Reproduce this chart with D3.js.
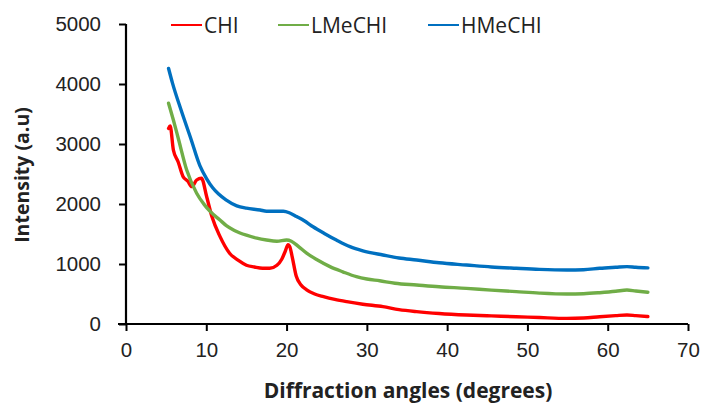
<!DOCTYPE html>
<html>
<head>
<meta charset="utf-8">
<script src="https://cdn.jsdelivr.net/npm/d3@7"></script>
<style>
  body { margin: 0; background: #fff; }
  svg { display: block; font-family: "Open Sans", sans-serif; }
</style>
</head>
<body>
<svg id="chart" width="704" height="403"></svg>
<script>
// diffraction angle (deg) / intensity
let chiAngle = [5.3, 5.5, 5.9, 6.5, 7.1, 7.7, 8.2, 8.8, 9.4, 10.05, 10.7, 11.7, 12.9, 14.0, 15.0, 16.0, 17.0, 17.9, 18.8, 19.4, 19.8, 20.2, 20.4, 20.7, 21.2, 21.8, 22.5, 23.5, 24.6, 26.0, 27.5, 29.5, 32.0, 34.0, 36.2, 39.0, 42.4, 45.5, 48.6, 51.5, 54.9, 57.0, 59.0, 61.0, 62.4, 63.5, 65.0];
let chiValue = [3260, 3300, 2900, 2700, 2460, 2380, 2290, 2400, 2430, 2120, 1790, 1460, 1180, 1060, 980, 950, 930, 930, 980, 1080, 1200, 1320, 1290, 1120, 800, 650, 570, 500, 456, 410, 372, 330, 289, 240, 206, 175, 150, 135, 122, 108, 94, 100, 122, 140, 150, 140, 125];

let lmeAngle = [5.3, 5.9, 6.5, 7.55, 8.8, 9.75, 10.45, 11.7, 12.5, 13.5, 15.0, 16.3, 17.5, 18.8, 20.0, 20.6, 21.5, 22.5, 23.8, 25.4, 27.0, 28.7, 30.0, 31.6, 33.5, 36.2, 39.0, 42.4, 45.5, 48.6, 51.5, 54.9, 57.0, 59.0, 61.0, 62.4, 63.5, 65.0];
let lmeValue = [3680, 3400, 3100, 2570, 2180, 1990, 1880, 1733, 1640, 1560, 1480, 1430, 1400, 1380, 1400, 1380, 1290, 1180, 1070, 956, 870, 789, 750, 720, 680, 650, 620, 594, 565, 539, 515, 500, 505, 522, 545, 567, 550, 530];

let hmeAngle = [5.3, 5.8, 6.85, 8.1, 9.2, 10.05, 10.8, 11.5, 12.45, 13.8, 15.0, 16.7, 17.5, 18.5, 19.6, 20.4, 21.25, 22.2, 23.3, 24.7, 26.2, 27.9, 29.5, 32.0, 34.0, 36.2, 39.0, 42.4, 45.5, 48.6, 51.5, 54.9, 57.0, 59.0, 61.0, 62.4, 63.5, 65.0];
let hmeValue = [4260, 4010, 3570, 3080, 2640, 2420, 2270, 2170, 2070, 1970, 1930, 1900, 1880, 1880, 1880, 1850, 1790, 1720, 1620, 1510, 1400, 1289, 1220, 1150, 1100, 1067, 1020, 983, 950, 928, 910, 900, 905, 928, 945, 956, 945, 935];

let seriesNames = ["CHI", "LMeCHI", "HMeCHI"];
let xTicks = [0, 10, 20, 30, 40, 50, 60, 70];
let yTicks = [0, 1000, 2000, 3000, 4000, 5000];

let colors = {
  "CHI": "#ff0000",
  "LMeCHI": "#70ad47",
  "HMeCHI": "#0070c0"
}

let series = [
  { name: "CHI", pts: chiAngle.map((a, i) => [a, chiValue[i]]) },
  { name: "LMeCHI", pts: lmeAngle.map((a, i) => [a, lmeValue[i]]) },
  { name: "HMeCHI", pts: hmeAngle.map((a, i) => [a, hmeValue[i]]) }
]

let svg = d3.select("#chart")

let xScale = d3.scaleLinear()
  .domain([0, 70])
  .range([126, 688]);

let yScale = d3.scaleLinear()
  .domain([0, 5000])
  .range([324, 24]);

// y axis
let yAxis = svg.append("g")
  .attr("transform", "translate(126,0)")
  .call(d3.axisLeft(yScale)
          .tickValues(yTicks)
          .tickFormat(d3.format("d"))
          .tickSize(7)
          .tickSizeOuter(0)
          .tickPadding(18))
yAxis.select(".domain").attr("stroke", "#000").attr("stroke-width", 2.2).attr("d", "M0,324V24")
yAxis.selectAll("line").attr("stroke", "#000").attr("stroke-width", 2)
yAxis.selectAll("text")
  .style("font-size", "20.5px")
  .attr("fill", "#222")

// x axis
let xAxis = svg.append("g")
  .attr("transform", "translate(0,324)")
  .call(d3.axisBottom(xScale)
          .tickValues(xTicks)
          .tickFormat(d3.format("d"))
          .tickSize(7)
          .tickSizeOuter(0)
          .tickPadding(11))
xAxis.select(".domain").attr("stroke", "#000").attr("stroke-width", 2.2).attr("d", "M118,0H688")
xAxis.selectAll("line").attr("stroke", "#000").attr("stroke-width", 2)
xAxis.selectAll("text")
  .style("font-size", "20.5px")
  .attr("fill", "#222")

// curves
let line = d3.line()
  .x(d => xScale(d[0]))
  .y(d => yScale(d[1]))
  .curve(d3.curveMonotoneX)

svg.selectAll(".curve")
  .data(series)
  .join("path")
  .attr("class", "curve")
  .attr("d", d => line(d.pts))
  .attr("fill", "none")
  .attr("stroke", d => colors[d.name])
  .attr("stroke-width", 3.4)
  .attr("stroke-linejoin", "round")
  .attr("stroke-linecap", "round")

// legend
let legendX = [171, 278, 428];
let legend = svg.selectAll(".legend")
  .data(seriesNames)
  .join("g")
  .attr("class", "legend")
  .attr("transform", (d, i) => "translate(" + legendX[i] + ",25)")

legend.append("line")
  .attr("x1", 0)
  .attr("x2", 31)
  .attr("stroke", d => colors[d])
  .attr("stroke-width", 2)

legend.append("text")
  .text(d => d)
  .attr("x", 33)
  .attr("y", 7.5)
  .style("font-size", "21px")
  .attr("fill", "#222")

// axis titles
svg.append("text")
  .text("Diffraction angles (degrees)")
  .attr("x", 408)
  .attr("y", 398)
  .attr("text-anchor", "middle")
  .style("font-size", "21px")
  .style("font-weight", "bold")
  .attr("fill", "#222")

svg.append("text")
  .text("Intensity (a.u)")
  .attr("transform", "translate(29,175) rotate(-90)")
  .attr("text-anchor", "middle")
  .style("font-size", "19.5px")
  .style("font-weight", "bold")
  .attr("fill", "#222")
</script>
</body>
</html>
